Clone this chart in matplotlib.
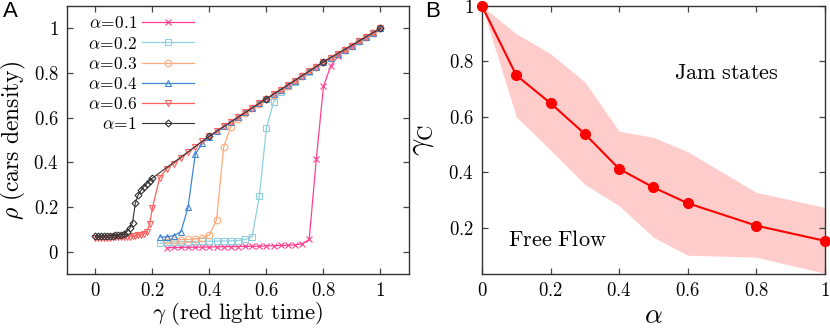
import numpy as np
import matplotlib
matplotlib.use("Agg")
import matplotlib.pyplot as plt
from matplotlib.ticker import FuncFormatter

plt.rcParams['mathtext.fontset'] = 'cm'
plt.rcParams['font.family'] = ['DejaVu Serif']

# ---------------- panel A data: rho vs gamma ----------------
gam_01 = [0.25, 0.275, 0.3, 0.325, 0.35, 0.375, 0.4, 0.425, 0.45, 0.475, 0.5,
          0.525, 0.55, 0.575, 0.6, 0.625, 0.65, 0.675, 0.7, 0.725, 0.75, 0.775,
          0.8, 0.825, 0.85, 0.875, 0.9, 0.925, 0.95, 0.975, 1.0]
rho_01 = [0.018, 0.019, 0.019, 0.020, 0.020, 0.021, 0.021, 0.022, 0.022, 0.023,
          0.023, 0.024, 0.024, 0.025, 0.026, 0.027, 0.028, 0.029, 0.031, 0.035,
          0.055, 0.415, 0.74, 0.83, 0.875, 0.902, 0.922, 0.942, 0.961, 0.981, 1.0]

gam_02 = [0.225] + gam_01
rho_02 = [0.037, 0.043, 0.044, 0.045, 0.045, 0.046, 0.046, 0.047, 0.047, 0.048,
          0.049, 0.050, 0.055, 0.067, 0.25, 0.555, 0.67, 0.715, 0.74, 0.762,
          0.785, 0.806, 0.827, 0.848, 0.867, 0.884, 0.904, 0.922, 0.942, 0.961,
          0.98, 1.0]

gam_03 = gam_01
rho_03 = [0.052, 0.053, 0.054, 0.055, 0.057, 0.062, 0.075, 0.143, 0.47, 0.56,
          0.596, 0.622, 0.643, 0.663, 0.683, 0.703, 0.723, 0.743, 0.764, 0.786,
          0.807, 0.828, 0.849, 0.867, 0.884, 0.904, 0.922, 0.942, 0.961, 0.98, 1.0]

gam_04 = [0.225] + gam_01
rho_04 = [0.066, 0.067, 0.072, 0.09, 0.2, 0.436, 0.485, 0.515, 0.54, 0.561,
          0.582, 0.603, 0.625, 0.645, 0.665, 0.685, 0.705, 0.725, 0.745, 0.765,
          0.787, 0.808, 0.829, 0.85, 0.868, 0.885, 0.905, 0.923, 0.943, 0.962,
          0.981, 1.0]

gam_low = [0.0, 0.01, 0.02, 0.03, 0.04, 0.05, 0.06, 0.07, 0.08, 0.09, 0.1,
           0.11, 0.12, 0.13, 0.14, 0.15, 0.16, 0.17, 0.18]
gam_06 = gam_low + [0.19, 0.2, 0.225] + gam_01
rho_06 = [0.062, 0.062, 0.062, 0.063, 0.063, 0.063, 0.064, 0.064, 0.065, 0.065,
          0.066, 0.067, 0.068, 0.069, 0.071, 0.073, 0.076, 0.080, 0.088,
          0.122, 0.197, 0.33,
          0.372, 0.395, 0.42, 0.445, 0.47, 0.495, 0.518, 0.54, 0.562, 0.582,
          0.603, 0.625, 0.645, 0.665, 0.685, 0.705, 0.725, 0.745, 0.765, 0.787,
          0.808, 0.829, 0.85, 0.868, 0.885, 0.905, 0.923, 0.943, 0.962, 0.981, 1.0]

gam_1 = gam_low + [0.19, 0.2, 0.4, 0.6, 0.8, 1.0]
rho_1 = [0.070, 0.070, 0.070, 0.071, 0.071, 0.072, 0.072, 0.073, 0.074, 0.076,
         0.080, 0.090, 0.105, 0.130, 0.218, 0.255, 0.275, 0.292, 0.305,
         0.318, 0.330, 0.518, 0.685, 0.85, 1.0]

series_A = [
    (r'$\alpha\!=\!0.1$', gam_01, rho_01, '#ff3f8f', 'x'),
    (r'$\alpha\!=\!0.2$', gam_02, rho_02, '#8fd0e0', 's'),
    (r'$\alpha\!=\!0.3$', gam_03, rho_03, '#ffaa78', 'o'),
    (r'$\alpha\!=\!0.4$', gam_04, rho_04, '#3f88d4', '^'),
    (r'$\alpha\!=\!0.6$', gam_06, rho_06, '#ff6060', 'v'),
    (r'$\alpha\!=\!1$', gam_1, rho_1, '#333333', 'D'),
]

# ---------------- panel B data: gamma_c vs alpha ----------------
alpha_B = [0.0, 0.1, 0.2, 0.3, 0.4, 0.5, 0.6, 0.8, 1.0]
gamc_B = [1.0, 0.75, 0.649, 0.538, 0.412, 0.345, 0.288, 0.207, 0.152]
gamc_hi = [1.0, 0.90, 0.828, 0.726, 0.548, 0.526, 0.474, 0.327, 0.273]
gamc_lo = [1.0, 0.60, 0.48, 0.356, 0.279, 0.165, 0.10, 0.093, 0.035]

ticks = [0, 0.2, 0.4, 0.6, 0.8, 1.0]
fmt = FuncFormatter(lambda v, p: r'$%g$' % round(v, 2))


def style_axes(ax):
    for s in ax.spines.values():
        s.set_color('#333333')
        s.set_linewidth(1.0)
    ax.tick_params(direction='in', length=4, width=0.9, color='#444444',
                   top=True, right=True, labelsize=13.5, pad=6)
    ax.xaxis.set_major_formatter(fmt)
    ax.yaxis.set_major_formatter(fmt)


fig = plt.figure(figsize=(8.3, 3.29), dpi=100)
axA = fig.add_axes([0.0807, 0.167, 0.412, 0.8146])
axB = fig.add_axes([0.5807, 0.167, 0.413, 0.8146])

for lab, g, r, c, m in series_A:
    ms = 3.5 if m == 'D' else 4.8
    lw = 0.8 if m == 'D' else 0.9
    axA.plot(g, r, color=c, lw=lw, marker=m, ms=ms, mfc='none', mec=c,
             mew=0.8, label=lab)
axA.set_xlim(-0.1, 1.1)
axA.set_ylim(-0.1, 1.1)
axA.set_xticks(ticks)
axA.set_yticks(ticks)
style_axes(axA)
axA.set_xlabel(r'$\gamma\ \mathrm{(red\ light\ time)}$', fontsize=16.5, labelpad=0)
axA.set_ylabel(r'$\rho\ \mathrm{(cars\ density)}$', fontsize=17, labelpad=4)
axA.legend(loc='upper right', bbox_to_anchor=(0.372, 0.965), frameon=False,
           markerfirst=False, numpoints=1, handlelength=3.0, handletextpad=0.3,
           labelspacing=0.18, borderpad=0, borderaxespad=0, fontsize=12.5)

axB.fill_between(alpha_B, gamc_lo, gamc_hi, color='#ffcccc', lw=0)
axB.plot(alpha_B, gamc_B, color='#ff0000', lw=1.5, marker='o', ms=7,
         clip_on=False, zorder=5)
axB.set_xlim(0, 1)
axB.set_ylim(0.032, 1.0)
axB.set_xticks(ticks)
axB.set_yticks([0.2, 0.4, 0.6, 0.8, 1.0])
style_axes(axB)
axB.set_xlabel(r'$\alpha$', fontsize=20, labelpad=1)
axB.set_ylabel(r'$\gamma_\mathrm{C}$', fontsize=22, labelpad=9)
axB.text(0.714, 0.76, r'$\mathrm{Jam\ states}$', fontsize=16, ha='center', va='center')
axB.text(0.22, 0.155, r'$\mathrm{Free\ Flow}$', fontsize=16, ha='center', va='center')

fig.text(0.003, 0.998, 'A', fontsize=16, family='Liberation Sans', ha='left', va='top')
fig.text(0.512, 0.998, 'B', fontsize=16, family='Liberation Sans', ha='left', va='top')

fig.savefig('out.png', dpi=100)
